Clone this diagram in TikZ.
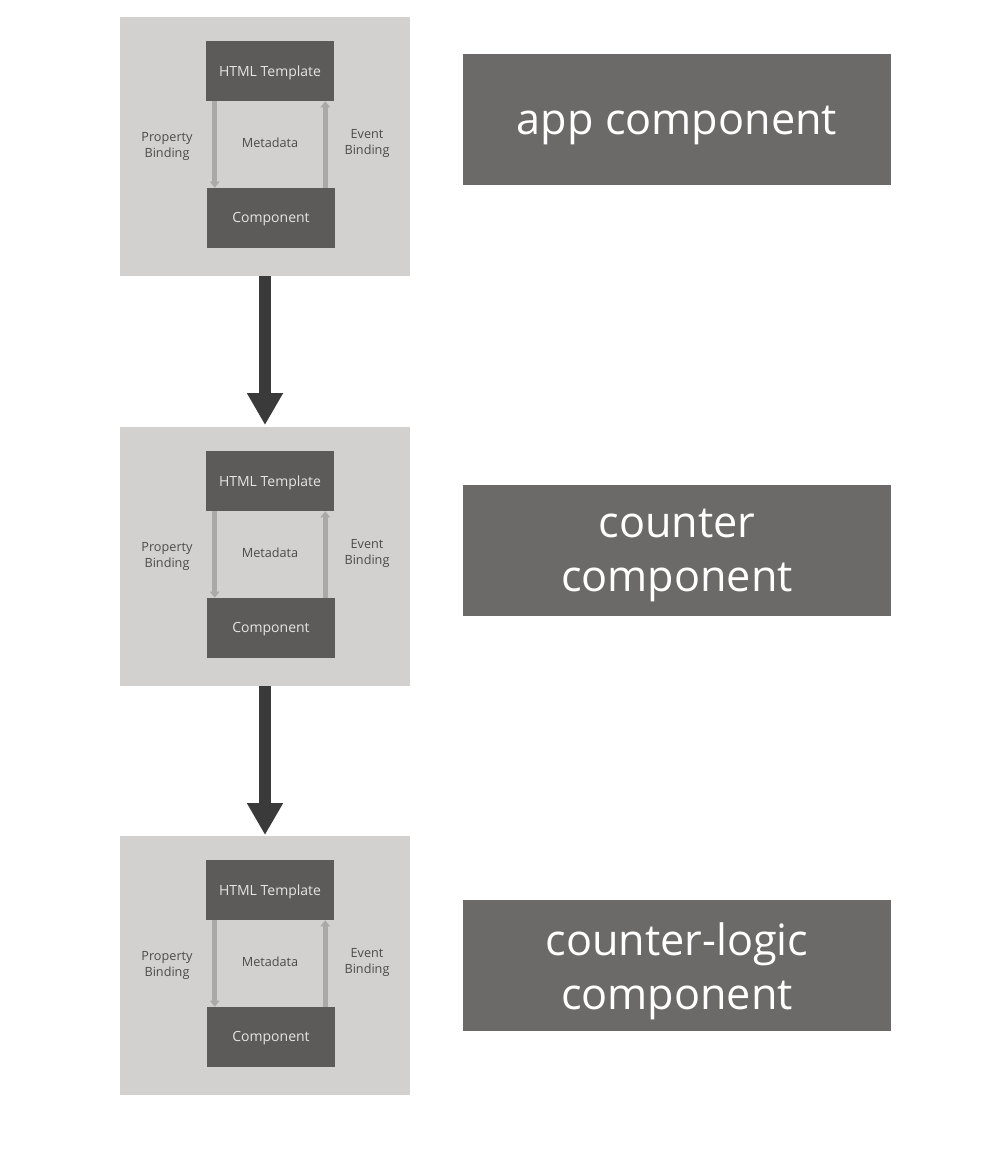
\documentclass[tikz,border=0pt]{standalone}
\usepackage{fontspec}
\setmainfont{Open Sans}
\usetikzlibrary{arrows.meta}
\definecolor{outerbg}{HTML}{D3D1D0}
\definecolor{innerbox}{HTML}{5D5B5A}
\definecolor{innertext}{HTML}{E4E4E4}
\definecolor{labeltext}{HTML}{4B4B4B}
\definecolor{thinarrow}{HTML}{A9A9A7}
\definecolor{bigarrow}{HTML}{3A3A3A}
\definecolor{rightbox}{HTML}{6B6A69}
\tikzset{
  outerbox/.style={fill=outerbg, minimum width=217.5pt, minimum height=194.25pt, inner sep=0pt},
  innerblock/.style={fill=innerbox, minimum width=96pt, minimum height=45pt, inner sep=0pt},
  innerlbl/.style={text=innertext, inner sep=0pt, font=\fontsize{10.5pt}{12pt}\selectfont},
  lbl/.style={text=labeltext, align=center, inner sep=0pt, font=\fontsize{9.5pt}{11.5pt}\selectfont},
  bindarrow/.style={draw=thinarrow, line width=3.75pt, -{Triangle[width=7pt,length=4.5pt]}},
  flowarrow/.style={draw=bigarrow, line width=9pt, -{Triangle[width=25.5pt,length=24pt]}},
  titlebox/.style={fill=rightbox, minimum width=321pt, minimum height=98.25pt, inner sep=0pt},
  titletext/.style={text=white, inner sep=0pt, align=center, font=\fontsize{32.4pt}{40.5pt}\selectfont}
}
\newcommand\compgroup[2]{%
  \node[outerbox] (#1o) at (265,146.5+#2) {};
  \node[innerblock] (#1h) at (270,71+#2) {};
  \node[innerlbl] (#1ht) at (270,72.5+#2) {HTML Template};
  \node[innerblock] (#1c) at (271,218+#2) {};
  \node[innerlbl] (#1ct) at (271,219.5+#2) {Component};
  \node[lbl] (#1p) at (167,146.5+#2) {Property\\Binding};
  \node[lbl] (#1m) at (270,143+#2) {Metadata};
  \node[lbl] (#1e) at (367,143.5+#2) {Event\\Binding};
  \draw[bindarrow] ([xshift=6.75pt]#1h.south west) -- ([xshift=6.75pt]#1h.south west |- #1c.north);
  \draw[bindarrow] ([xshift=-6.75pt]#1h.south east |- #1c.north) -- ([xshift=-6.75pt]#1h.south east);
}
\begin{document}
\begin{tikzpicture}[x=0.75pt,y=-0.75pt]
\useasboundingbox[fill=white] (0,0) rectangle (997,1170);
\compgroup{a}{0}
\compgroup{b}{410}
\compgroup{c}{819}
\coordinate (bt) at (265,425);
\coordinate (ct) at (265,835);
\draw[flowarrow] (ao.south) -- (bt);
\draw[flowarrow] (bo.south) -- (ct);
\node[titlebox] (ta) at (677,119.5) {};
\node[titletext] (tat) at ([yshift=-4.5pt]ta.center) {app component};
\node[titlebox] (tb) at (677,550.5) {};
\node[titletext] (tbt) at ([yshift=-4pt]tb.center) {counter\\component};
\node[titlebox] (tc) at (677,965.5) {};
\node[titletext] (tct) at ([yshift=-4pt]tc.center) {counter-logic\\component};
\end{tikzpicture}
\end{document}
